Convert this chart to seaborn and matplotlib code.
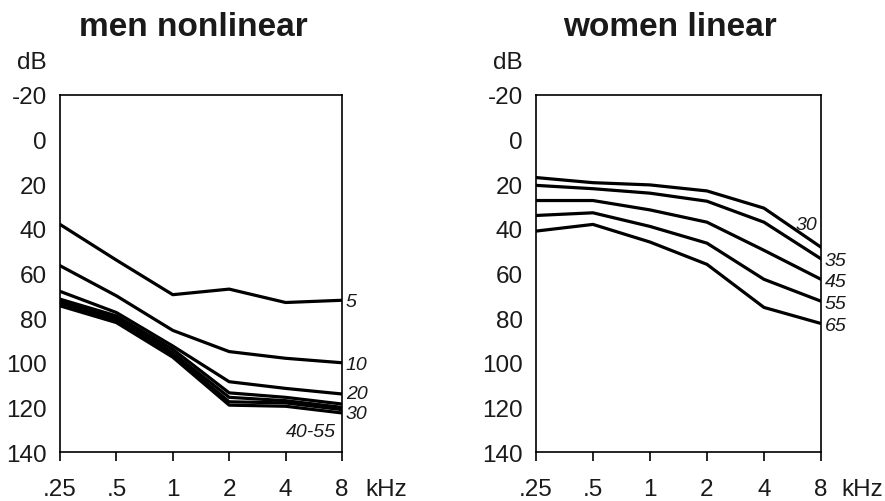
import matplotlib
matplotlib.use("Agg")
import matplotlib.pyplot as plt
from matplotlib.ticker import FixedLocator, NullLocator, NullFormatter
import pandas as pd
import seaborn as sns

# Frequencies (kHz) and axis labels
freqs = [0.25, 0.5, 1, 2, 4, 8]
freq_labels = [".25", ".5", "1", "2", "4", "8"]
db_ticks = [-20, 0, 20, 40, 60, 80, 100, 120, 140]
db_tick_labels = ["-20", "0", "20", "40", "60", "80", "100", "120", "140"]

# Men, nonlinear: one curve per exposure group
men_groups = ["5", "10", "20", "30", "40", "50", "55"]
men_5 = [38, 54, 69.5, 67, 73, 72]
men_10 = [56.5, 70, 85.5, 95, 98, 100]
men_20 = [68, 77.5, 92.5, 108.5, 111.5, 114]
men_30 = [71.5, 79, 94, 113.5, 115.5, 118.5]
men_40 = [72.5, 80, 95.5, 115.5, 117, 120]
men_50 = [73.5, 81, 96.5, 117.5, 118, 121]
men_55 = [74.5, 82, 97.5, 119, 119.5, 122.5]
men_curves = [men_5, men_10, men_20, men_30, men_40, men_50, men_55]

# Women, linear
women_groups = ["30", "35", "45", "55", "65"]
women_30 = [17, 19.3, 20.3, 23, 30.7, 48.2]
women_35 = [20.5, 22, 24, 27.6, 37, 53.4]
women_45 = [27.3, 27.3, 31.5, 37, 49.6, 62.6]
women_55 = [34, 32.8, 38.9, 46.4, 62.6, 72.4]
women_65 = [41, 38, 45.9, 55.9, 75.2, 82.4]
women_curves = [women_30, women_35, women_45, women_55, women_65]

INK = "#1a1a1a"
TICK_SIZE = 17.5

sns.set_theme(style="white")
plt.rcParams["font.family"] = ["Liberation Sans", "DejaVu Sans"]
plt.rcParams["axes.unicode_minus"] = False


def long_frame(groups, curves):
    rows = []
    for g, vals in zip(groups, curves):
        for f, v in zip(freqs, vals):
            rows.append({"freq": f, "db": v, "group": g})
    return pd.DataFrame(rows)


def draw_panel(ax, groups, curves):
    df = long_frame(groups, curves)
    sns.lineplot(data=df, x="freq", y="db", hue="group", hue_order=groups,
                 palette=["black"] * len(groups), legend=False,
                 linewidth=2.3, estimator=None, ax=ax)
    ax.set_xscale("log", base=2)
    ax.set_xlim(0.25, 8)
    ax.set_ylim(140, -20)
    ax.set_xticks(freqs)
    ax.set_xticklabels(freq_labels)
    ax.xaxis.set_minor_locator(NullLocator())
    ax.set_yticks(db_ticks)
    ax.set_yticklabels(db_tick_labels)
    ax.yaxis.set_minor_locator(FixedLocator([40, 140]))
    ax.yaxis.set_minor_formatter(NullFormatter())
    ax.tick_params(axis="y", which="major", length=0, pad=9.5,
                   labelsize=TICK_SIZE, labelcolor=INK)
    ax.tick_params(axis="y", which="minor", length=7, width=1.2,
                   color="black", direction="out", left=True)
    ax.tick_params(axis="x", which="major", length=6.5, width=1.2,
                   color="black", direction="out", bottom=True, pad=12,
                   labelsize=TICK_SIZE, labelcolor=INK)
    ax.set_xlabel("")
    ax.set_ylabel("")
    for sp in ax.spines.values():
        sp.set_visible(True)
        sp.set_color("black")
        sp.set_linewidth(1.2)
    ax.annotate("dB", xy=(0, 1), xycoords="axes fraction",
                xytext=(-13, 33), textcoords="offset pixels",
                ha="right", va="center", fontsize=TICK_SIZE, color=INK)


fig = plt.figure(figsize=(8.85, 5.02), dpi=100)
fig.patch.set_facecolor("white")
ax1 = fig.add_axes([0.0678, 0.0976, 0.3186, 0.7112])
ax2 = fig.add_axes([0.6056, 0.0976, 0.3220, 0.7112])

draw_panel(ax1, men_groups, men_curves)
draw_panel(ax2, women_groups, women_curves)

# kHz unit after the last x tick label
for ax, dx in ((ax1, 23), (ax2, 20)):
    ax.annotate("kHz", xy=(1, 0), xycoords="axes fraction",
                xytext=(dx, -37), textcoords="offset pixels",
                ha="left", va="center", fontsize=TICK_SIZE, color=INK)

# Curve labels for the men panel
lab = dict(fontsize=14, style="italic", color=INK, va="center")
ax1.annotate("5", xy=(8, men_5[-1]), xytext=(4, -1), textcoords="offset pixels", ha="left", **lab)
ax1.annotate("10", xy=(8, men_10[-1]), xytext=(4, -2), textcoords="offset pixels", ha="left", **lab)
ax1.annotate("20", xy=(8, men_20[-1]), xytext=(4, 0), textcoords="offset pixels", ha="left", **lab)
ax1.annotate("30", xy=(8, men_30[-1]), xytext=(4, -9), textcoords="offset pixels", ha="left", **lab)
ax1.annotate("40-55", xy=(8, men_55[-1]), xytext=(-6, -19), textcoords="offset pixels", ha="right", **lab)

# Curve labels for the women panel
ax2.annotate("30", xy=(8, women_30[-1]), xytext=(-4, 23), textcoords="offset pixels", ha="right", **lab)
for g, vals in zip(women_groups[1:], women_curves[1:]):
    ax2.annotate(g, xy=(8, vals[-1]), xytext=(4, -2), textcoords="offset pixels", ha="left", **lab)

# Panel titles
fig.text(193 / 885, (502 - 36) / 502, "men nonlinear", ha="center", va="baseline",
         fontsize=24, fontweight="bold", color=INK)
fig.text(670 / 885, (502 - 36) / 502, "women linear", ha="center", va="baseline",
         fontsize=24, fontweight="bold", color=INK)

fig.savefig("out.png", dpi=100, facecolor="white")
